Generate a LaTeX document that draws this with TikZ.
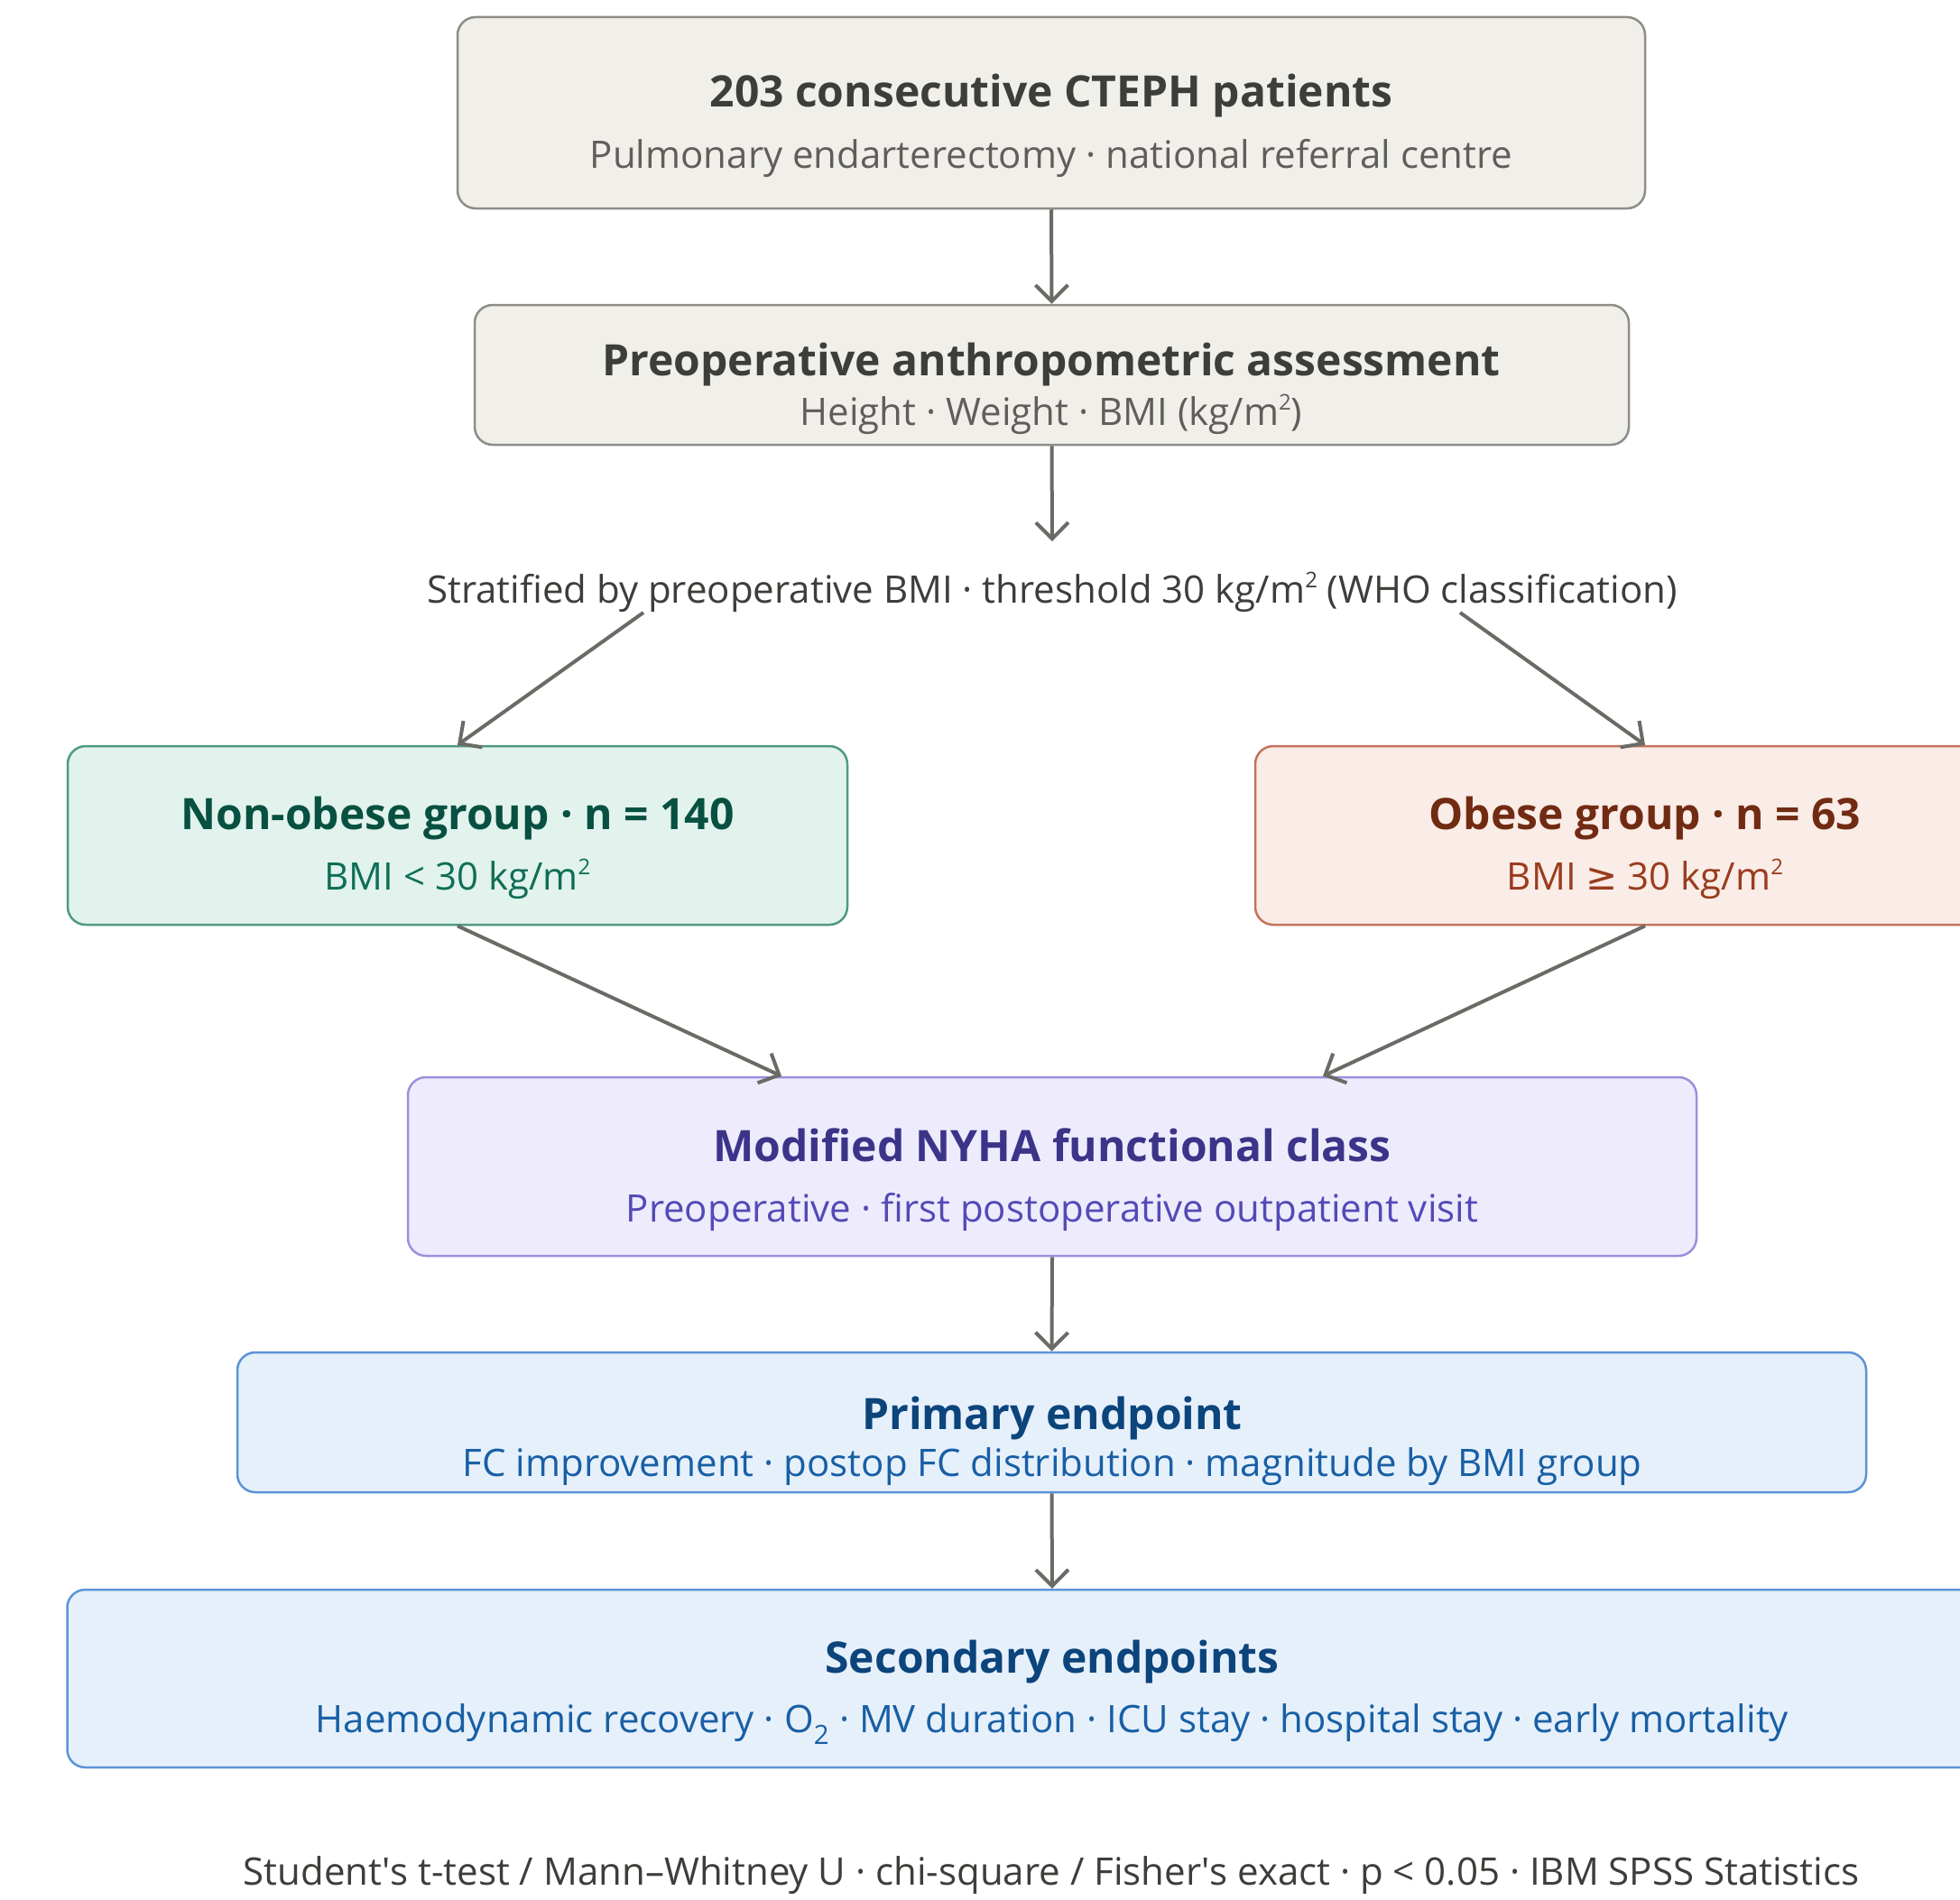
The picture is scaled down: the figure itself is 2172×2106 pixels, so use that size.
\documentclass[tikz,border=0pt]{standalone}
\usepackage{fontspec}
\setmainfont{Open Sans}
\newfontfamily\symfont{DejaVu Sans}
\usetikzlibrary{arrows.meta}
\newcommand\sqtwo{\raisebox{0.42em}{\fontsize{24}{24}\selectfont 2}}
\definecolor{arr}{HTML}{6B6B66}
\definecolor{gfill}{HTML}{F1EFEA}\definecolor{gdraw}{HTML}{8E8D88}
\definecolor{gtit}{HTML}{3D3D3A}\definecolor{gsub}{HTML}{5F5E5A}
\definecolor{tfill}{HTML}{E1F3EC}\definecolor{tdraw}{HTML}{4F9A80}
\definecolor{ttit}{HTML}{085041}\definecolor{tsub}{HTML}{0F6E56}
\definecolor{cfill}{HTML}{FAECE7}\definecolor{cdraw}{HTML}{C4735A}
\definecolor{ctit}{HTML}{712B13}\definecolor{csub}{HTML}{993C1D}
\definecolor{pfill}{HTML}{EEECFC}\definecolor{pdraw}{HTML}{9A90DE}
\definecolor{ptit}{HTML}{3C3489}\definecolor{psub}{HTML}{534AB7}
\definecolor{bfill}{HTML}{E6F0FB}\definecolor{bdraw}{HTML}{5B94D6}
\definecolor{btit}{HTML}{0C447C}\definecolor{bsub}{HTML}{185FA5}
\tikzset{
  boxbase/.style={rectangle, rounded corners=20pt, line width=2.5pt, inner sep=0pt},
  greybox/.style={boxbase, fill=gfill, draw=gdraw},
  tealbox/.style={boxbase, fill=tfill, draw=tdraw},
  coralbox/.style={boxbase, fill=cfill, draw=cdraw},
  purplebox/.style={boxbase, fill=pfill, draw=pdraw},
  bluebox/.style={boxbase, fill=bfill, draw=bdraw},
  ttl/.style={anchor=mid, inner sep=0pt, font=\fontsize{48}{54}\selectfont\bfseries},
  sub/.style={anchor=mid, inner sep=0pt, font=\fontsize{42}{50}\selectfont},
  flow/.style={draw=arr, line width=4pt, -{Straight Barb[length=18pt,width=36pt,line width=4pt]}},
}
\begin{document}
\begin{tikzpicture}[x=1pt,y=-1pt]
\clip (0,0) rectangle (2172,2106);
\fill[white] (0,0) rectangle (2172,2106);
% boxes
\node[greybox, minimum width=1316pt, minimum height=212pt] (b1) at (1165,125) {};
\node[greybox, minimum width=1279pt, minimum height=155pt] (b2) at (1165.5,415.5) {};
\node[tealbox, minimum width=864pt, minimum height=198pt] (nob) at (507,926) {};
\node[coralbox, minimum width=864pt, minimum height=198pt] (ob) at (1823,926) {};
\node[purplebox, minimum width=1428pt, minimum height=198pt] (nyha) at (1166,1293) {};
\node[bluebox, minimum width=1805pt, minimum height=155pt] (prim) at (1165.5,1576.5) {};
\node[bluebox, minimum width=2183pt, minimum height=197pt] (sec) at (1166,1860.5) {};
% texts
\node[ttl, text=gtit] (t1) at (1165,116) {203 consecutive CTEPH patients};
\node[sub, text=gsub] (s1) at (1165,184) {Pulmonary endarterectomy · national referral centre};
\node[ttl, text=gtit] (t2) at (1165,414) {Preoperative anthropometric assessment};
\node[sub, text=gsub] (s2) at (1165,469) {Height · Weight · BMI (kg/m\sqtwo)};
\node[sub, text=gtit] (strat) at (1166,666) {Stratified by preoperative BMI · threshold 30 kg/m\sqtwo\ (WHO classification)};
\node[ttl, text=ttit] (t3) at (507,917) {Non-obese group · n = 140};
\node[sub, text=tsub] (s3) at (507,984) {BMI < 30 kg/m\sqtwo};
\node[ttl, text=ctit] (t4) at (1823,917) {Obese group · n = 63};
\node[sub, text=csub] (s4) at (1823,984) {BMI {\symfont ≥} 30 kg/m\sqtwo};
\node[ttl, text=ptit] (t5) at (1166,1285) {Modified NYHA functional class};
\node[sub, text=psub] (s5) at (1166,1352) {Preoperative · first postoperative outpatient visit};
\node[ttl, text=btit] (t6) at (1166,1582) {Primary endpoint};
\node[sub, text=bsub] (s6) at (1166,1634) {FC improvement · postop FC distribution · magnitude by BMI group};
\node[ttl, text=btit] (t7) at (1166,1852) {Secondary endpoints};
\node[sub, text=bsub] (s7) at (1166,1918) {Haemodynamic recovery · O\textsubscript{2} · MV duration · ICU stay · hospital stay · early mortality};
\node[sub, text=gtit] (foot) at (1165,2087) {Student\textquotesingle s t-test / Mann--Whitney U · chi-square / Fisher\textquotesingle s exact · p < 0.05 · IBM SPSS Statistics};
% connector anchors
\coordinate (stratin) at (1166,600);
\coordinate (sl) at (713,679);
\coordinate (sr) at (1618,679);
% connectors
\draw[flow] (b1.south) -- (b2.north);
\draw[flow] (b2.south) -- (stratin);
\draw[flow] (sl) -- (nob.north);
\draw[flow] (sr) -- (ob.north);
\draw[flow] (nob.south) -- ([xshift=-300pt]nyha.north);
\draw[flow] (ob.south) -- ([xshift=300pt]nyha.north);
\draw[flow] (nyha.south) -- (prim.north);
\draw[flow] (prim.south) -- (sec.north);
\end{tikzpicture}
\end{document}
